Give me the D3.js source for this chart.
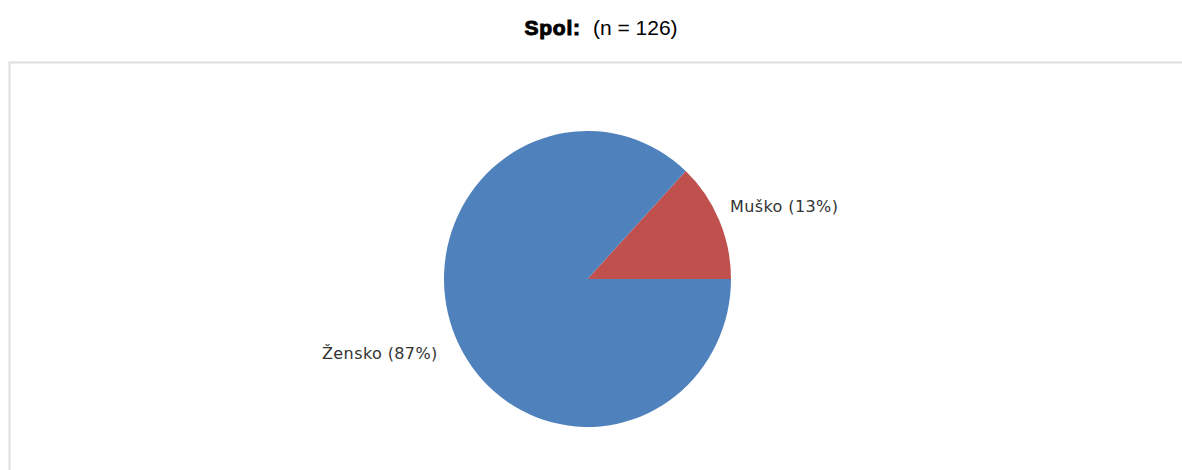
<!DOCTYPE html>
<html><head><meta charset="utf-8">
<script src="https://cdn.jsdelivr.net/npm/d3@7"></script>
<style>body{margin:0;background:#fff;} svg{display:block;}</style>
</head><body>
<svg id="chart" width="1182" height="470"></svg>
<script>
const categories = ["Muško", "Žensko"];
const values = [13, 87];
const labels = ["Muško (13%)", "Žensko (87%)"];
const colors = ["#C0504D", "#4F81BD"];
const titleBold = "Spol:";
const titleRest = "(n = 126)";

const svg = d3.select("#chart");
// frame
svg.append("rect").attr("x", 9.5).attr("y", 62.5).attr("width", 1200).attr("height", 500)
  .attr("fill", "none").attr("stroke", "#dedede").attr("stroke-width", 2);

// title
const t = svg.append("text").attr("x", 601).attr("y", 35).attr("text-anchor", "middle")
  .attr("font-family", "Liberation Sans, Arial, sans-serif").attr("fill", "#000");
t.append("tspan").attr("font-weight", "900").attr("font-size", 21).attr("letter-spacing", 0.8)
  .attr("stroke", "#000").attr("stroke-width", 1).text(titleBold);
t.append("tspan").attr("font-size", 21).attr("dx", 12).text(titleRest);

const cx = 587.5, cy = 279, ry = 148, rx = 143.5;
const pie = d3.pie().sort(null).value(d => d)
  .startAngle(Math.PI / 2).endAngle(Math.PI / 2 - 2 * Math.PI);
const arcs = pie(values);
const arc = d3.arc().innerRadius(0).outerRadius(ry);
const g = svg.append("g").attr("transform", `translate(${cx},${cy}) scale(${rx / ry},1)`);
g.selectAll("path").data(arcs).join("path")
  .attr("d", arc).attr("fill", (d, i) => colors[i]);

const labelPos = [[730, 212], [322, 359]];
svg.selectAll("text.lbl").data(labels).join("text").attr("class", "lbl")
  .attr("x", (d, i) => labelPos[i][0]).attr("y", (d, i) => labelPos[i][1])
  .attr("font-family", "DejaVu Sans, Verdana, sans-serif").attr("font-size", 16)
  .attr("letter-spacing", 0.4)
  .attr("fill", "#333").text(d => d);
</script>
</body></html>
